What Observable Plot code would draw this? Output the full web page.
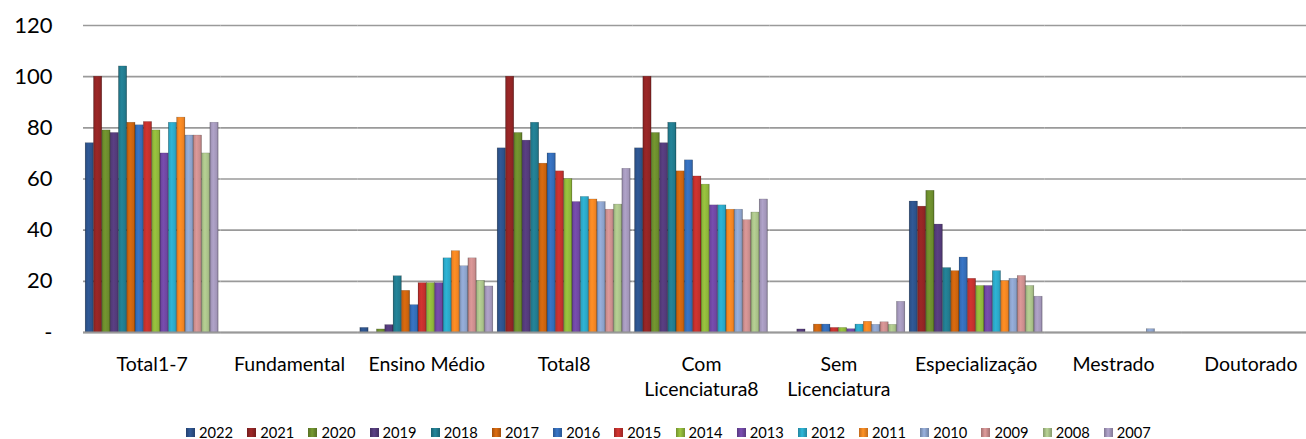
<!DOCTYPE html>
<html>
<head>
<meta charset="utf-8">
<script src="https://cdn.jsdelivr.net/npm/d3@7"></script>
<script src="https://cdn.jsdelivr.net/npm/@observablehq/plot@0.6"></script>
<style>
  html, body { margin: 0; padding: 0; background: #fff; }
  body { width: 1306px; height: 439px; position: relative; overflow: hidden; font-family: Lato, "Open Sans", sans-serif; }
  #legend { position: absolute; left: 186px; top: 425px; display: flex; font-size: 14.7px; color: #000; line-height: 14px; }
  #legend .item { display: flex; align-items: center; width: 61.2px; }
  #legend .sw { width: 9px; height: 9px; margin-right: 4px; }
</style>
</head>
<body>
<div id="chart"></div>
<div id="legend"></div>
<script>
const years = ["2022","2021","2020","2019","2018","2017","2016","2015","2014","2013","2012","2011","2010","2009","2008","2007"];
const categories = ["Total1-7","Fundamental","Ensino Médio","Total8","Com Licenciatura8","Sem Licenciatura","Especialização","Mestrado","Doutorado"];
const categoryLabels = ["Total1-7","Fundamental","Ensino Médio","Total8","Com\nLicenciatura8","Sem\nLicenciatura","Especialização","Mestrado","Doutorado"];
const yTicks = [0, 20, 40, 60, 80, 100, 120];

// values per category, in the order of `years`
const total17        = [74, 100, 79, 78, 104, 82, 81, 82.3, 79, 70, 82, 84, 77, 77, 70, 82];
const fundamental    = [0, 0, 0, 0, 0, 0, 0, 0, 0, 0, 0, 0, 0, 0, 0, 0];
const ensinoMedio    = [1.8, 0, 1.2, 2.9, 22, 16.3, 10.7, 19.3, 19.3, 19.3, 29, 31.8, 25.9, 29, 20.2, 18];
const total8         = [72, 100, 78, 75, 82, 66, 70, 63, 60, 51, 53, 52, 51, 48, 50, 64];
const comLic8        = [72, 100, 78, 74, 82, 63, 67.3, 61, 57.8, 49.7, 49.7, 48, 48, 43.9, 46.9, 52];
const semLic         = [0, 0, 0, 1.2, 0, 3.1, 3.1, 1.8, 1.8, 1.3, 3.1, 4.2, 3, 4, 3, 12];
const especializacao = [51.2, 49.2, 55.4, 42.2, 25.2, 24, 29.3, 21, 18.2, 18.2, 24, 20.1, 21, 22.1, 18.2, 14];
const mestrado       = [0, 0, 0, 0, 0, 0, 0, 0, 0, 0, 0, 0, 1.3, 0, 0, 0];
const doutorado      = [0, 0, 0, 0, 0, 0, 0, 0, 0, 0, 0, 0, 0, 0, 0, 0];

const seriesColors = ["#2c5189","#8f2424","#6a8a2c","#523a78","#21798c","#c8620e","#336bb5","#c0302d",
                      "#8db43a","#6e46a0","#2aa5c4","#ef8322","#8aa0c8","#c98c8c","#a7bf87","#a195b8"];

const byCategory = [total17, fundamental, ensinoMedio, total8, comLic8, semLic, especializacao, mestrado, doutorado];
const data = [];
categories.forEach((c, ci) => years.forEach((y, yi) => data.push({cat: c, year: y, value: byCategory[ci][yi]})));

const labelOf = new Map(categories.map((c, i) => [c, categoryLabels[i]]));
const gradIds = years.map((y, i) => `url(#g${i})`);

const chart = Plot.plot({
  width: 1306,
  height: 415,
  marginLeft: 83,
  marginRight: -13,
  marginTop: 25,
  marginBottom: 83,
  style: {fontFamily: "Lato, 'Open Sans', sans-serif", color: "#000", background: "transparent"},
  fx: {domain: categories, padding: 0, round: false, label: null},
  x: {domain: years, paddingInner: 0, paddingOuter: 0.26, round: false, axis: null},
  y: {domain: [0, 120], label: null},
  color: {domain: years, range: gradIds},
  marks: [
    Plot.gridY(yTicks, {stroke: "#9a9a9a", strokeOpacity: 1, strokeWidth: 1.6}),
    Plot.barY(data, {fx: "cat", x: "year", y: "value", fill: "year", stroke: "rgba(0,0,0,0.25)", strokeWidth: 0.5}),
    Plot.ruleY([0], {stroke: "#999", strokeWidth: 2}),
    Plot.axisY({ticks: yTicks, tickFormat: d => d === 0 ? "-" : d, tickSize: 0, tickPadding: 31, fontSize: 22, label: null}),
    Plot.axisFx({anchor: "bottom", tickSize: 0, tickPadding: 21, fontSize: 19.5, lineHeight: 1.28, tickFormat: d => labelOf.get(d), label: null})
  ]
});

// gradients
const ns = "http://www.w3.org/2000/svg";
const defs = document.createElementNS(ns, "defs");
seriesColors.forEach((c, i) => {
  const g = document.createElementNS(ns, "linearGradient");
  g.setAttribute("id", `g${i}`);
  g.setAttribute("x1", "0"); g.setAttribute("x2", "1"); g.setAttribute("y1", "0"); g.setAttribute("y2", "0");
  const base = d3.color(c);
  const stops = [[0, base.darker(0.9)], [0.14, base], [0.4, base.brighter(0.25)], [0.82, base], [1, base.darker(0.8)]];
  stops.forEach(([o, col]) => {
    const s = document.createElementNS(ns, "stop");
    s.setAttribute("offset", o);
    s.setAttribute("stop-color", col.formatHex());
    g.appendChild(s);
  });
  defs.appendChild(g);
});
chart.insertBefore(defs, chart.firstChild);
document.getElementById("chart").appendChild(chart);

// legend
const legend = document.getElementById("legend");
years.forEach((y, i) => {
  const item = document.createElement("div");
  item.className = "item";
  const sw = document.createElement("div");
  sw.className = "sw";
  const base = d3.color(seriesColors[i]);
  sw.style.background = `linear-gradient(to right, ${base.darker(0.6).formatHex()}, ${base.brighter(0.3).formatHex()} 45%, ${base.darker(0.6).formatHex()})`;
  const t = document.createElement("span");
  t.textContent = y;
  item.appendChild(sw);
  item.appendChild(t);
  legend.appendChild(item);
});
</script>
</body>
</html>
